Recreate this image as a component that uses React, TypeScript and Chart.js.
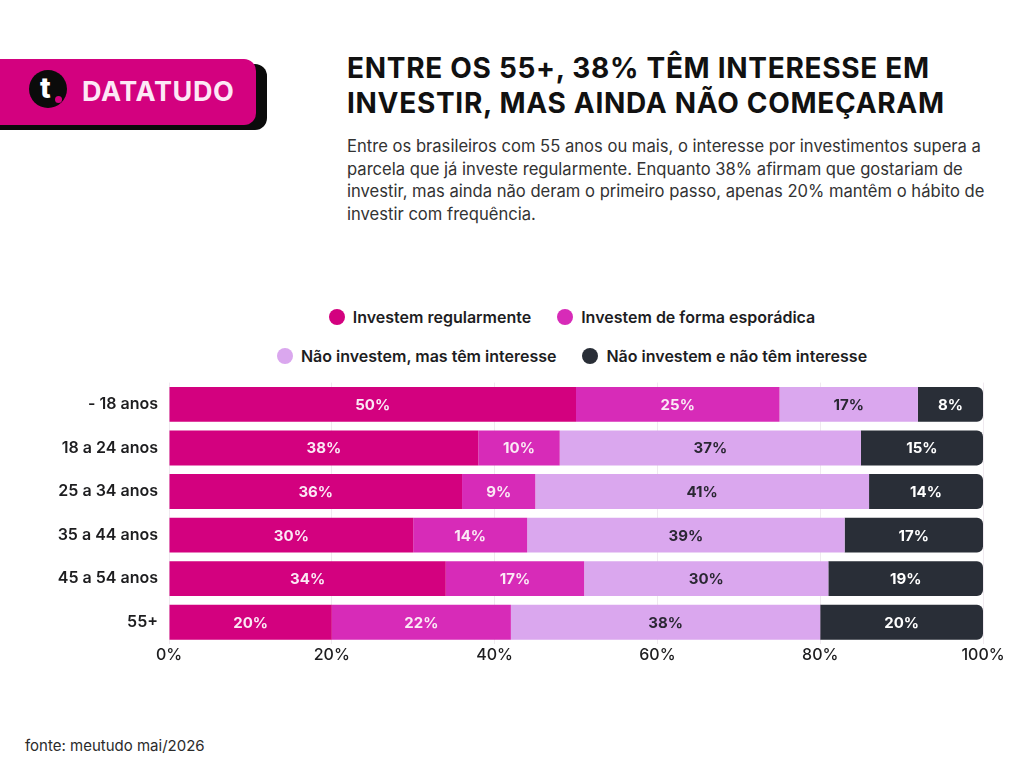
import React, { useEffect, useRef } from "react";
import { Chart, registerables } from "chart.js";

Chart.register(...registerables);

// Age groups and the share (%) of each investment profile
const ageGroups = ["- 18 anos", "18 a 24 anos", "25 a 34 anos", "35 a 44 anos", "45 a 54 anos", "55+"];
const investRegular = [50, 38, 36, 30, 34, 20];
const investSporadic = [25, 10, 9, 14, 17, 22];
const notInvestInterested = [17, 37, 41, 39, 30, 38];
const notInvestNotInterested = [8, 15, 14, 17, 19, 20];
const seriesNames = [
  "Investem regularmente",
  "Investem de forma esporádica",
  "Não investem, mas têm interesse",
  "Não investem e não têm interesse",
];
const xTicks = [0, 20, 40, 60, 80, 100];

const COLORS = ["#d3017f", "#d72bb8", "#daa7ee", "#292e37"];
const LABEL_COLORS = ["#fbe9f5", "#fbe9f5", "#2a2733", "#ffffff"];
const FONT = "Inter, 'Open Sans', sans-serif";

const valueLabels = {
  id: "valueLabels",
  afterDatasetsDraw(chart: any) {
    const ctx = chart.ctx;
    ctx.save();
    ctx.font = `700 15px ${FONT}`;
    ctx.textAlign = "center";
    ctx.textBaseline = "middle";
    chart.data.datasets.forEach((ds: any, di: number) => {
      const meta = chart.getDatasetMeta(di);
      meta.data.forEach((bar: any, i: number) => {
        const v = ds.data[i];
        const cx = (bar.x + bar.base) / 2;
        ctx.fillStyle = LABEL_COLORS[di];
        ctx.fillText(`${v}%`, cx, bar.y + 1);
      });
    });
    ctx.restore();
  },
};

function BarChart() {
  const ref = useRef<HTMLCanvasElement>(null);
  useEffect(() => {
    const series = [investRegular, investSporadic, notInvestInterested, notInvestNotInterested];
    const chart = new Chart(ref.current!, {
      type: "bar",
      data: {
        labels: ageGroups,
        datasets: series.map((data, i) => ({
          label: seriesNames[i],
          data,
          backgroundColor: COLORS[i],
          borderWidth: 0,
          borderSkipped: false,
          borderRadius:
            i === series.length - 1
              ? { topLeft: 0, bottomLeft: 0, topRight: 6, bottomRight: 6 }
              : 0,
          barPercentage: 0.8,
          categoryPercentage: 1,
        })),
      },
      options: {
        indexAxis: "y",
        animation: false,
        responsive: false,
        layout: { padding: { top: 7, right: 41, bottom: 0, left: 0 } },
        plugins: { legend: { display: false }, tooltip: { enabled: false } },
        scales: {
          x: {
            stacked: true,
            min: 0,
            max: 100,
            afterBuildTicks(scale: any) {
              scale.ticks = xTicks.map((v) => ({ value: v }));
            },
            afterFit(scale: any) {
              scale.height = 31;
            },
            grid: { color: "#efe9ef", drawTicks: false },
            border: { display: false },
            ticks: {
              padding: 2,
              color: "#1d1d1f",
              font: { family: FONT, size: 16, weight: 500 },
              callback: (v: any) => `${v}%`,
            },
          },
          y: {
            stacked: true,
            afterFit(scale: any) {
              scale.width = 169;
            },
            grid: { display: false, drawTicks: false },
            border: { display: false },
            ticks: {
              padding: 11,
              color: "#1d1d1f",
              font: { family: FONT, size: 16, weight: 600 },
            },
          },
        },
      },
      plugins: [valueLabels],
    });
    return () => chart.destroy();
  }, []);
  return (
    <canvas
      ref={ref}
      width={1024}
      height={313}
      style={{ position: "absolute", left: 0, top: 362, width: 1024, height: 313 }}
    />
  );
}

function LegendItem({ color, text }: { color: string; text: string }) {
  return (
    <div style={{ display: "flex", alignItems: "center", margin: "0 13px" }}>
      <span
        style={{
          width: 16,
          height: 16,
          borderRadius: "50%",
          background: color,
          display: "inline-block",
          marginRight: 8,
        }}
      />
      <span>{text}</span>
    </div>
  );
}

export default function App() {
  const legendRow: React.CSSProperties = {
    position: "absolute",
    left: 172,
    width: 800,
    display: "flex",
    justifyContent: "center",
    fontFamily: FONT,
    fontWeight: 600,
    fontSize: 16,
    color: "#1d1d1f",
  };
  return (
    <div
      style={{
        position: "absolute",
        left: 0,
        top: 0,
        width: 1024,
        height: 768,
        background: "#ffffff",
        overflow: "hidden",
        fontFamily: FONT,
      }}
    >
      {/* Brand badge */}
      <div
        style={{
          position: "absolute",
          left: -20,
          top: 64,
          width: 287,
          height: 66,
          background: "#0b0b0b",
          borderRadius: 12,
        }}
      />
      <div
        style={{
          position: "absolute",
          left: -20,
          top: 59,
          width: 276,
          height: 66,
          background: "#d3017f",
          borderRadius: 12,
        }}
      />
      <div
        style={{
          position: "absolute",
          left: 29,
          top: 70,
          width: 38,
          height: 38,
          borderRadius: "50%",
          background: "#0b0b0b",
        }}
      />
      <div
        style={{
          position: "absolute",
          left: 40,
          top: 71,
          fontSize: 28,
          fontWeight: 800,
          color: "#ffffff",
          lineHeight: "34px",
        }}
      >
        t
      </div>
      <div
        style={{
          position: "absolute",
          left: 55,
          top: 96,
          width: 7,
          height: 7,
          borderRadius: "50%",
          background: "#d3017f",
        }}
      />
      <div
        style={{
          position: "absolute",
          left: 82,
          top: 74,
          fontSize: 27,
          fontWeight: 700,
          color: "#fde8f6",
          lineHeight: "36px",
          letterSpacing: 0.6,
        }}
      >
        DATATUDO
      </div>

      {/* Title and description */}
      <div
        style={{
          position: "absolute",
          left: 347,
          top: 51,
          width: 680,
          fontSize: 28,
          fontWeight: 700,
          lineHeight: "35px",
          letterSpacing: 0.7,
          color: "#111111",
          whiteSpace: "nowrap",
        }}
      >
        ENTRE OS 55+, 38% TÊM INTERESSE EM
        <br />
        INVESTIR, MAS AINDA NÃO COMEÇARAM
      </div>
      <div
        style={{
          position: "absolute",
          left: 347,
          top: 135,
          width: 680,
          fontSize: 16.6,
          fontWeight: 400,
          lineHeight: "22.7px",
          color: "#333333",
          whiteSpace: "nowrap",
        }}
      >
        Entre os brasileiros com 55 anos ou mais, o interesse por investimentos supera a
        <br />
        parcela que já investe regularmente. Enquanto 38% afirmam que gostariam de
        <br />
        investir, mas ainda não deram o primeiro passo, apenas 20% mantêm o hábito de
        <br />
        investir com frequência.
      </div>

      {/* Legend */}
      <div style={{ ...legendRow, top: 307 }}>
        <LegendItem color={COLORS[0]} text={seriesNames[0]} />
        <LegendItem color={COLORS[1]} text={seriesNames[1]} />
      </div>
      <div style={{ ...legendRow, top: 346 }}>
        <LegendItem color={COLORS[2]} text={seriesNames[2]} />
        <LegendItem color={COLORS[3]} text={seriesNames[3]} />
      </div>

      <BarChart />

      <div
        style={{
          position: "absolute",
          left: 25,
          top: 736,
          fontSize: 15,
          color: "#2b2b2b",
        }}
      >
        fonte: meutudo mai/2026
      </div>
    </div>
  );
}
